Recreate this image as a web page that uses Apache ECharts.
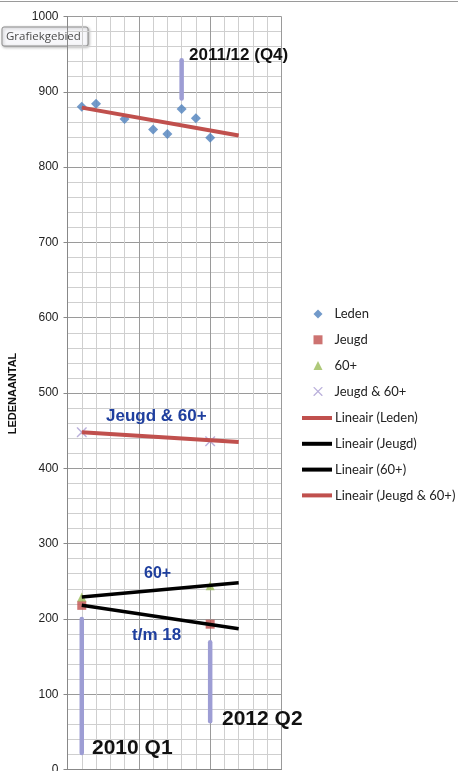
<!DOCTYPE html>
<html><head><meta charset="utf-8">
<script src="https://cdn.jsdelivr.net/npm/echarts@6/dist/echarts.min.js"></script>
<style>html,body{margin:0;padding:0;background:#fff}#c{width:458px;height:771px}</style>
</head><body><div id="c"></div>
<script>
// quarter index: 1 = 2010 Q1 ... 10 = 2012 Q2
const ledenX = [1, 2, 4, 6, 7, 8, 9, 10];
const ledenY = [880, 884, 864, 850, 844, 877, 865, 839];
const jeugdX = [1, 10];
const jeugdY = [218, 193];
const zestigX = [1, 10];
const zestigY = [229, 244];
const samenX = [1, 10];
const samenY = [448, 436];
// linear trend lines (endpoints)
const trendX = [1, 12];
const trendLeden = [879, 842];
const trendJeugd = [218, 187];
const trendZestig = [229, 248];
const trendSamen = [448, 435];
// lavender marker bars
const barX = [1, 10, 8];
const barFrom = [22, 64, 891];
const barTo = [200, 169, 942];
const scatterNames = ['Leden', 'Jeugd', '60+', 'Jeugd & 60+'];
const trendNames = ['Lineair (Leden)', 'Lineair (Jeugd)', 'Lineair (60+)', 'Lineair (Jeugd & 60+)'];

const pts = (xs, ys) => xs.map((x, i) => [x, ys[i]]);
const X_PATH = 'path://M0,0 L1,0 L10,9 L10,10 L9,10 L0,1 Z M10,0 L10,1 L1,10 L0,10 L0,9 L9,0 Z';

const series = [];
barX.forEach((x, i) => {
  series.push({
    name: 'bar' + i, type: 'line', symbol: 'none', z: 1, silent: true,
    data: [[x, barFrom[i]], [x, barTo[i]]],
    lineStyle: { color: '#9d9dd4', width: 4.5, cap: 'round' }
  });
});
series.push(
  { name: 'Leden', type: 'scatter', symbol: 'diamond', symbolSize: 10, z: 3,
    itemStyle: { color: '#4f81bd' }, data: pts(ledenX, ledenY) },
  { name: 'Jeugd', type: 'scatter', symbol: 'rect', symbolSize: 9, z: 3,
    itemStyle: { color: '#c0504d' }, data: pts(jeugdX, jeugdY) },
  { name: '60+', type: 'scatter', symbol: 'triangle', symbolSize: 9, z: 3,
    itemStyle: { color: '#9bbb59' }, data: pts(zestigX, zestigY) },
  { name: 'Jeugd & 60+', type: 'scatter', symbol: X_PATH, symbolSize: 10, z: 3,
    itemStyle: { color: '#a99cd2' }, data: pts(samenX, samenY) },
  { name: 'Lineair (Leden)', type: 'line', symbol: 'none', z: 4,
    lineStyle: { color: '#c0504d', width: 4 }, itemStyle: { color: '#c0504d' }, data: pts(trendX, trendLeden) },
  { name: 'Lineair (Jeugd)', type: 'line', symbol: 'none', z: 4,
    lineStyle: { color: '#000', width: 3.5 }, itemStyle: { color: '#000' }, data: pts(trendX, trendJeugd) },
  { name: 'Lineair (60+)', type: 'line', symbol: 'none', z: 4,
    lineStyle: { color: '#000', width: 3.5 }, itemStyle: { color: '#000' }, data: pts(trendX, trendZestig) },
  { name: 'Lineair (Jeugd & 60+)', type: 'line', symbol: 'none', z: 4,
    lineStyle: { color: '#c0504d', width: 4 }, itemStyle: { color: '#c0504d' }, data: pts(trendX, trendSamen) }
);

const legendText = { fontFamily: 'Lato, sans-serif', fontSize: 13, color: '#222', lineHeight: 14 };
const blue = '#1f3f9e';
const chart = echarts.init(document.getElementById('c'));
chart.setOption({
  animation: false,
  backgroundColor: '#fff',
  grid: { left: 67.5, top: 16.5, width: 214, height: 753, containLabel: false, outerBoundsMode: 'none' },
  xAxis: {
    type: 'value', min: 0, max: 15, interval: 5,
    axisLabel: { show: false }, axisTick: { show: false },
    axisLine: { show: true, lineStyle: { color: '#888' } },
    splitLine: { show: true, lineStyle: { color: '#9a9a9a' } },
    minorTick: { show: false, splitNumber: 5 },
    minorSplitLine: { show: true, lineStyle: { color: '#cfcfcf' } }
  },
  yAxis: {
    type: 'value', min: 0, max: 1000, interval: 100,
    axisLine: { show: true, lineStyle: { color: '#888' } },
    axisTick: { show: true, length: 4, lineStyle: { color: '#888' } },
    axisLabel: { fontSize: 12, color: '#222', margin: 9, fontFamily: 'Liberation Sans, Arial, sans-serif',
      formatter: v => String(v) },
    splitLine: { show: true, lineStyle: { color: '#9a9a9a' } },
    minorTick: { show: false, splitNumber: 5 },
    minorSplitLine: { show: true, lineStyle: { color: '#cfcfcf' } }
  },
  legend: [
    {
      data: scatterNames, orient: 'vertical', left: 308.5, top: 302,
      itemWidth: 9, itemHeight: 9, itemGap: 11.8, selectedMode: false,
      textStyle: Object.assign({ padding: [0, 0, 0, 7] }, legendText)
    },
    {
      data: trendNames.map(n => ({ name: n, icon: 'rect' })), orient: 'vertical', left: 297, top: 406,
      itemWidth: 30, itemHeight: 4, itemGap: 11.8, selectedMode: false,
      textStyle: Object.assign({ padding: [0, 0, 0, -2] }, legendText)
    }
  ],
  series: series,
  graphic: [
    { type: 'line', shape: { x1: 0, y1: 1.5, x2: 458, y2: 1.5 }, style: { stroke: '#9a9a9a', lineWidth: 1 }, z: 10 },
    { type: 'text', x: 13, y: 393.5, rotation: Math.PI / 2, z: 10,
      style: { text: 'LEDENAANTAL', font: 'bold 11px "Liberation Sans", Arial, sans-serif', fill: '#111', align: 'center', verticalAlign: 'middle' } },
    { type: 'text', x: 189, y: 55, z: 10,
      style: { text: '2011/12 (Q4)', font: 'bold 17px "Liberation Sans", Arial, sans-serif', fill: '#111', align: 'left', verticalAlign: 'middle' } },
    { type: 'text', x: 106, y: 416, z: 10,
      style: { text: 'Jeugd & 60+', font: 'bold 17px "Liberation Sans", Arial, sans-serif', fill: blue, align: 'left', verticalAlign: 'middle' } },
    { type: 'text', x: 144, y: 574, z: 10,
      style: { text: '60+', font: 'bold 16px "Liberation Sans", Arial, sans-serif', fill: blue, align: 'left', verticalAlign: 'middle' } },
    { type: 'text', x: 132, y: 635, z: 10,
      style: { text: 't/m 18', font: 'bold 17px "Liberation Sans", Arial, sans-serif', fill: blue, align: 'left', verticalAlign: 'middle' } },
    { type: 'text', x: 92, y: 748, z: 10,
      style: { text: '2010 Q1', font: 'bold 21px "Liberation Sans", Arial, sans-serif', fill: '#111', align: 'left', verticalAlign: 'middle' } },
    { type: 'text', x: 222, y: 719, z: 10,
      style: { text: '2012 Q2', font: 'bold 21px "Liberation Sans", Arial, sans-serif', fill: '#111', align: 'left', verticalAlign: 'middle' } },
    { type: 'group', z: 20, children: [
      { type: 'rect', shape: { x: 2, y: 27, width: 86, height: 19, r: 2 },
        style: { fill: '#f7f7fa', stroke: '#8c8c8c', lineWidth: 1, shadowBlur: 3, shadowOffsetX: 1, shadowOffsetY: 1, shadowColor: 'rgba(0,0,0,0.3)' } },
      { type: 'text', x: 6, y: 36.5,
        style: { text: 'Grafiekgebied', font: '11.5px "Open Sans", "Noto Sans", sans-serif', fill: '#4a4a4a', align: 'left', verticalAlign: 'middle' } }
    ] }
  ]
});
</script></body></html>
